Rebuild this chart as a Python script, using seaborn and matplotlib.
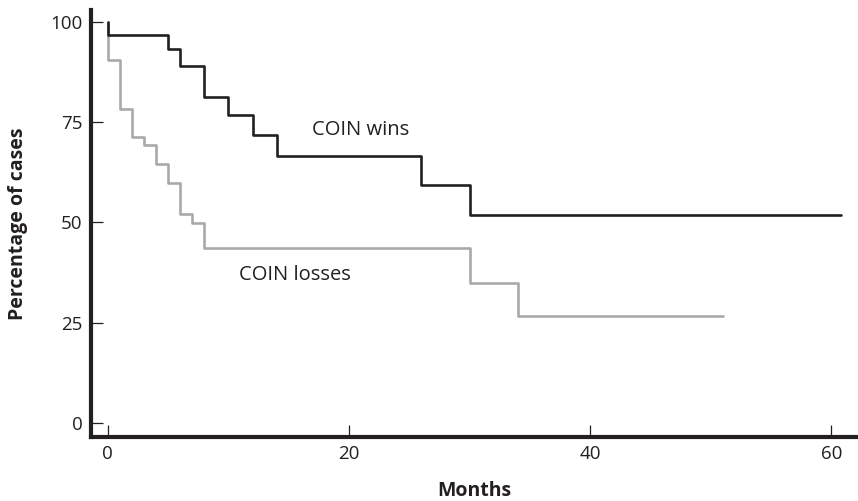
import matplotlib
matplotlib.use("Agg")
import matplotlib.pyplot as plt
import pandas as pd
import seaborn as sns

# Kaplan-Meier style step data
wins_months = [0, 0, 5, 6, 8, 10, 12, 14, 26, 30, 60.8]
wins_pct = [100, 96.7, 93.2, 89.1, 81.4, 76.9, 71.8, 66.7, 59.3, 51.9, 51.9]
losses_months = [0, 0, 1, 2, 3, 4, 5, 6, 7, 8, 30, 34, 51]
losses_pct = [100, 90.6, 78.4, 71.4, 69.2, 64.6, 59.8, 52.1, 49.8, 43.6, 35.0, 26.6, 26.6]
groups = ["COIN losses", "COIN wins"]
x_ticks = [0, 20, 40, 60]
y_ticks = [0, 25, 50, 75, 100]

df = pd.concat([
    pd.DataFrame({"Months": losses_months, "pct": losses_pct, "group": groups[0]}),
    pd.DataFrame({"Months": wins_months, "pct": wins_pct, "group": groups[1]}),
])

sns.set_style("ticks")
plt.rcParams["font.family"] = ["Open Sans", "DejaVu Sans"]

fig = plt.figure(figsize=(8.58, 5.01), dpi=100)
ax = fig.add_axes([0.106, 0.128, 0.894, 0.852])

sns.lineplot(data=df, x="Months", y="pct", hue="group", units="group",
             estimator=None, sort=False, drawstyle="steps-post",
             palette={"COIN losses": "#a7a9ac", "COIN wins": "#231f20"},
             linewidth=1.9, legend=False, ax=ax)

ax.set_xlim(-1.4, 62.2)
ax.set_ylim(-3.5, 103)
ax.set_xticks(x_ticks)
ax.set_yticks(y_ticks)
ax.tick_params(direction="in", length=8.5, width=0.9, color="#231f20",
               labelsize=13.5, labelcolor="#231f20", pad=6)
for side in ["top", "right"]:
    ax.spines[side].set_visible(False)
for side in ["left", "bottom"]:
    ax.spines[side].set_linewidth(3)
    ax.spines[side].set_color("#231f20")

ax.set_xlabel("Months", fontsize=14, fontweight="bold", color="#231f20", labelpad=13)
ax.set_ylabel("Percentage of cases", fontsize=14, fontweight="bold", color="#231f20", labelpad=16)

ax.text(16.9, 73.0, "COIN wins", fontsize=14.5, color="#231f20", va="center")
ax.text(10.9, 36.8, "COIN losses", fontsize=14.5, color="#231f20", va="center")

fig.savefig("out.png", dpi=100)
